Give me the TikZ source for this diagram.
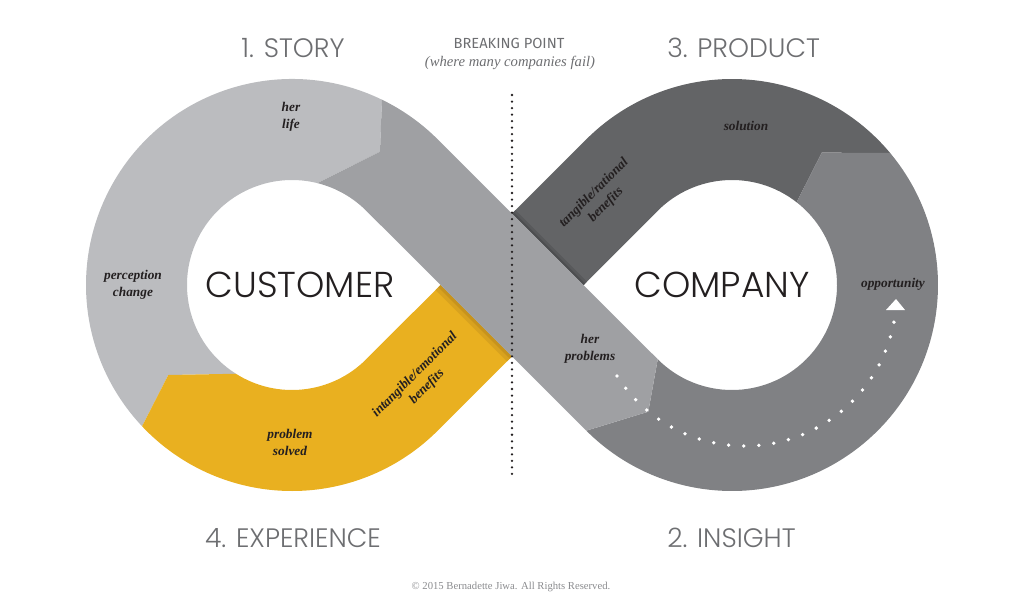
\documentclass[tikz,border=0pt]{standalone}
\usepackage{fontspec}
\usepackage{tikz}
\usetikzlibrary{calc}
\setmainfont{Liberation Serif}
\newfontfamily\geofont{Poppins Light}
\newfontfamily\smallsans{Fira Sans}
\definecolor{lifegrey}{HTML}{BBBCBF}
\definecolor{stripgrey}{HTML}{9FA0A3}
\definecolor{solgrey}{HTML}{636466}
\definecolor{oppgrey}{HTML}{808184}
\definecolor{benyellow}{HTML}{E9B020}
\definecolor{yshadeA}{HTML}{D8A21F}
\definecolor{yshadeB}{HTML}{C7931C}
\definecolor{dshadeA}{HTML}{58595B}
\definecolor{dshadeB}{HTML}{4D4E50}
\definecolor{inktext}{HTML}{231F20}
\definecolor{headtext}{HTML}{6D6E71}
\definecolor{notetext}{HTML}{8A8B8E}

\begin{document}
\begin{tikzpicture}[x=0.75pt,y=0.75pt,
  lbl/.style={font=\fontsize{10}{12.75}\selectfont\bfseries\itshape,text=inktext,align=center,inner sep=0pt},
  heading/.style={font=\geofont\fontsize{20}{24}\selectfont,text=headtext,inner sep=0pt},
  bigword/.style={font=\geofont\fontsize{27}{32}\selectfont,text=inktext,inner sep=0pt}]
  \useasboundingbox (-512,-312) rectangle (512,285);
  % loop centres and crossing points
  \coordinate (Lc) at (-220,0);
  \coordinate (Rc) at (220,0);
  \coordinate (top) at (0,71.3);
  \coordinate (bot) at (0,-71.4);
  \coordinate (ltip) at (-71.5,0);
  \coordinate (rtip) at (71.5,0);
  % left loop: her life / perception change
  \fill[lifegrey] ($(Lc)+(64.1:206)$) arc[start angle=64.1,end angle=223.3,radius=206]
    -- ($(Lc)+(-123.7,-90)$) -- ($(Lc)+(237.7:105)$)
    arc[start angle=237.7,end angle=76,radius=105] -- ($(Lc)+(88,133.3)$) -- cycle;
  % left loop: problem solved (yellow)
  \fill[benyellow] ($(Lc)+(223.3:206)$) arc[start angle=223.3,end angle=315,radius=206]
    -- (bot) -- (ltip) -- ($(Lc)+(315:105)$)
    arc[start angle=315,end angle=237.7,radius=105] -- ($(Lc)+(-123.7,-90)$) -- cycle;
  \fill[yshadeA] (ltip) -- (bot) -- ++(-5,-5) -- ($(ltip)+(-5,-5)$) -- cycle;
  \fill[yshadeB] (ltip) -- (bot) -- ++(-2.2,-2.2) -- ($(ltip)+(-2.2,-2.2)$) -- cycle;
  % right loop: solution (dark)
  \fill[solgrey] ($(Rc)+(135:206)$) -- (top) -- (rtip) -- ($(Rc)+(135:105)$)
    arc[start angle=135,end angle=52,radius=105] -- ($(Rc)+(89.7,132.3)$)
    -- ($(Rc)+(39.9:206)$) arc[start angle=39.9,end angle=135,radius=206] -- cycle;
  \fill[dshadeA] (top) -- (rtip) -- ++(3.5,3.5) -- ($(top)+(3.5,3.5)$) -- cycle;
  \fill[dshadeB] (top) -- (rtip) -- ++(1.6,1.6) -- ($(top)+(1.6,1.6)$) -- cycle;
  % right loop: opportunity
  \fill[oppgrey] ($(Rc)+(39.9:206)$) arc[start angle=39.9,end angle=-135,radius=206]
    -- ($(Rc)+(-83.7,-126.7)$) -- ($(Rc)+(-135:105)$)
    arc[start angle=-135,end angle=52,radius=105] -- ($(Rc)+(89.7,132.3)$) -- cycle;
  % strip over the crossing
  \fill[stripgrey] ($(Lc)+(64.1:206)$) arc[start angle=64.1,end angle=45,radius=206]
    -- ($(Rc)+(225:105)$) -- ($(Rc)+(-83.7,-126.7)$) -- ($(Rc)+(225:206)$)
    -- ($(Lc)+(45:105)$) arc[start angle=45,end angle=76,radius=105]
    -- ($(Lc)+(88,133.3)$) -- cycle;
  % dotted path to opportunity
  \coordinate (dotc) at (232.8,-9.3);
  \foreach \k in {0,...,24}
    \fill[white] ($(dotc)+({-147.4+\k*5.7}:151.7)$) circle (1.9);
  \fill[white] (384,-14) -- (393,-25) -- (374,-25) -- cycle;
  % breaking point line
  \coordinate (bpTop) at (0,190);
  \coordinate (bpBot) at (0,-192);
  \draw[inktext,line width=1.9pt,line cap=round,dash pattern=on 0pt off 4.9pt] (bpTop) -- (bpBot);
  % labels on the loops
  \node[lbl] (herlife) at (-221,168) {her\\life};
  \node[lbl] (perception) at (-379,0) {perception\\change};
  \node[lbl] (solved) at (-222,-157) {problem\\solved};
  \node[lbl,rotate=45] (intangible) at (-91,-96) {intangible/emotional\\benefits};
  \node[lbl,rotate=45] (tangible) at (88,86) {tangible/rational\\benefits};
  \node[lbl] (solution) at (234,159) {solution};
  \node[lbl] (opportunity) at (381,1) {opportunity};
  \node[lbl] (herproblems) at (78,-64) {her\\problems};
  \node[bigword] (customer) at (-212,0) {CUSTOMER};
  \node[bigword] (company) at (210,0) {COMPANY};
  % headings
  \node[heading] (story) at (-219,237) {1. STORY};
  \node[heading,anchor=west] (product) at (155,237) {3. PRODUCT};
  \node[heading] (experience) at (-219,-253) {4. EXPERIENCE};
  \node[heading,anchor=west] (insight) at (155,-253) {2. INSIGHT};
  \node[font=\smallsans\fontsize{11}{13}\selectfont,text=headtext,inner sep=0pt] (breaking) at (-3,242) {BREAKING POINT};
  \node[font=\fontsize{11}{13}\selectfont\itshape,text=headtext,inner sep=0pt] (fail) at (-2,222) {(where many companies fail)};
  \node[font=\fontsize{8}{10}\selectfont,text=notetext,inner sep=0pt] (copyright) at (-1,-302) {© 2015 Bernadette Jiwa. All Rights Reserved.};
\end{tikzpicture}
\end{document}
